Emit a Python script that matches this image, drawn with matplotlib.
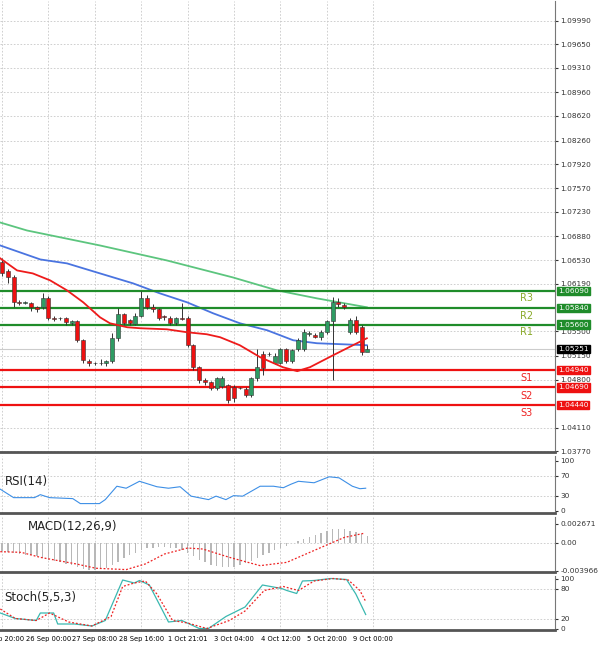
import matplotlib
matplotlib.use("Agg")
import matplotlib.pyplot as plt
import numpy as np

# ---------------- data ----------------
opens = [1.0650,1.0638,1.0628,1.0592,1.0591,1.0591,1.0585,1.0585,1.0598,1.0570,1.0569,1.0569,1.0562,1.0565,1.0537,1.0507,
         1.0504,1.0504,1.0504,1.0507,1.0540,1.0575,1.0566,1.0561,1.0573,1.0598,1.0585,1.0582,1.0572,1.0570,1.0562,1.0569,
         1.0570,1.0530,1.0498,1.0480,1.0477,1.0468,1.0471,1.0472,1.0469,1.0468,1.0467,1.0458,1.0482,1.0517,1.0517,1.0505,
         1.0505,1.0524,1.0507,1.0524,1.0524,1.0547,1.0545,1.0542,1.0549,1.0565,1.0592,1.0588,1.0549,1.0566,1.0556,1.0520]
closes = [1.0635,1.0628,1.0592,1.0591,1.0592,1.0585,1.0583,1.0598,1.0569,1.0568,1.0569,1.0563,1.0565,1.0537,1.0508,1.0504,
          1.0504,1.0505,1.0507,1.0540,1.0575,1.0562,1.0562,1.0573,1.0598,1.0585,1.0582,1.0570,1.0571,1.0562,1.0569,1.0568,
          1.0530,1.0498,1.0480,1.0477,1.0468,1.0482,1.0482,1.0451,1.0454,1.0468,1.0458,1.0482,1.0498,1.0497,1.0518,1.0514,
          1.0524,1.0507,1.0523,1.0537,1.0549,1.0547,1.0542,1.0549,1.0565,1.0592,1.0589,1.0585,1.0566,1.0549,1.0520,1.0525]
highs = [1.0656,1.0640,1.0632,1.0596,1.0594,1.0593,1.0587,1.0606,1.0601,1.0572,1.0571,1.0571,1.0567,1.0567,1.0539,1.0510,
         1.0506,1.0510,1.0509,1.0548,1.0584,1.0577,1.0568,1.0576,1.0608,1.0602,1.0590,1.0584,1.0574,1.0572,1.0571,1.0591,
         1.0572,1.0532,1.0500,1.0482,1.0479,1.0484,1.0485,1.0474,1.0472,1.0470,1.0470,1.0484,1.0524,1.0522,1.0520,1.0519,
         1.0526,1.0526,1.0525,1.0540,1.0553,1.0550,1.0548,1.0552,1.0567,1.0600,1.0598,1.0591,1.0570,1.0572,1.0560,1.0530]
lows = [1.0630,1.0620,1.0586,1.0588,1.0589,1.0580,1.0578,1.0583,1.0566,1.0565,1.0566,1.0560,1.0560,1.0534,1.0505,1.0500,
        1.0502,1.0501,1.0500,1.0505,1.0536,1.0560,1.0560,1.0559,1.0571,1.0582,1.0578,1.0567,1.0567,1.0560,1.0560,1.0566,
        1.0527,1.0494,1.0476,1.0472,1.0465,1.0465,1.0468,1.0447,1.0448,1.0466,1.0455,1.0455,1.0478,1.0487,1.0514,1.0503,
        1.0503,1.0504,1.0505,1.0521,1.0521,1.0544,1.0540,1.0538,1.0546,1.0480,1.0585,1.0583,1.0546,1.0546,1.0516,1.0522]

ma_green_idx = [-0.3, 4.3, 16.9, 28.4, 39.8, 47.4, 54.3, 62.9]
ma_green = [1.07075, 1.06960, 1.06743, 1.06527, 1.06281, 1.06094, 1.05978, 1.05849]
ma_blue_idx = [-0.3, 6.6, 11.2, 16.9, 22.6, 27.2, 31.9, 36.4, 41, 45.7, 50.2, 54.3, 62.9]
ma_blue = [1.06743, 1.06541, 1.06484, 1.06339, 1.06195, 1.06051, 1.05921, 1.05762, 1.05618, 1.05517, 1.05372,
           1.05329, 1.05300]
ma_red_idx = [-0.3, 2.6, 5.3, 8.3, 11.2, 14, 16.9, 18.6, 21.6, 23.8, 28.4, 31.9, 35.3, 37.6, 41, 44.5, 48.4,
              50.9, 53.1, 57.1, 60.5, 62.9]
ma_red = [1.06556, 1.06382, 1.06339, 1.06238, 1.06094, 1.05921, 1.05704, 1.05618, 1.05560, 1.05546, 1.05531,
          1.05488, 1.05459, 1.05416, 1.05300, 1.05127, 1.04983, 1.04925, 1.04983, 1.05156, 1.05300, 1.05401]

levels_names = ["R3", "R2", "R1", "S1", "S2", "S3"]
levels = [1.06090, 1.05840, 1.05600, 1.04940, 1.04690, 1.04440]
last_price = 1.05251
price_ticks = [1.09990,1.09650,1.09310,1.08960,1.08620,1.08260,1.07920,1.07570,1.07230,1.06880,1.06530,1.06190,
               1.05500,1.05150,1.04800,1.04110,1.03770]

rsi_idx = [-0.3,2,5.6,6.6,8.2,12.2,13.5,16.8,17.8,19.8,21.4,23.7,26.7,28.7,30.7,32.6,35.6,36.9,38.6,39.9,41.5,
           44.5,46.8,48.5,49.8,51.1,53.8,56.4,58.1,60.4,61.7,62.7]
rsi = [43,26,26,32,26,24,14,14,22,49,45,59,48,45,48,29,22,29,22,30,29,49,49,46,53,59,56,68,66,49,44,45]

macd_hist = [-0.0012,-0.0013,-0.0015,-0.0016,-0.0017,-0.0018,-0.0019,-0.0021,-0.0024,-0.0026,-0.0028,-0.0030,-0.0032,-0.0035,
             -0.0037,-0.0038,-0.0038,-0.0037,-0.0036,-0.0032,-0.0027,-0.0022,-0.0018,-0.0015,-0.0011,-0.0008,-0.0007,-0.0006,
             -0.0006,-0.0007,-0.0008,-0.0010,-0.0014,-0.0019,-0.0024,-0.0028,-0.0031,-0.0033,-0.0034,-0.0035,-0.0034,-0.0032,
             -0.0029,-0.0026,-0.0022,-0.0018,-0.0014,-0.0010,-0.0007,-0.0004,-0.0001,0.0002,0.0005,0.0008,0.0011,0.0014,
             0.0016,0.0019,0.0020,0.0019,0.0017,0.0015,0.0012,0.0010]
sig_idx = [-0.3,3.3,6.6,12.8,16.2,21.4,24.7,28,32,34.6,39.2,44.5,49.1,52.4,55.7,59,62.3]
macd_sig = [-0.00127,-0.00136,-0.00207,-0.00301,-0.00362,-0.00381,-0.00301,-0.00160,-0.00075,-0.00089,-0.00207,
            -0.00325,-0.00278,-0.00160,-0.00042,0.00075,0.00132]

st_idx = [-0.3,2.3,5.9,6.6,8.9,9.6,12.5,15.5,17.8,20.8,22.8,23.7,25.4,28.7,31,34,35.6,38.6,41.9,44.9,48.2,49.1,
          50.8,51.8,53.8,56.7,59.4,61,62.7]
st_main = [31,20,16,31,31,9,9,5,16,97,91,96,87,13,16,0,0,24,43,87,80,76,70,95,96,100,98,69,28]
sg_idx = [-0.3,2.3,5.9,8.2,11.5,15.5,18.8,20.8,22.8,24.7,26.7,29.4,32,35.3,39.2,41.9,45.2,48.5,51.1,53.8,
          57.1,59.7,61.7,62.7]
st_sig = [39,20,16,31,13,5,24,84,91,95,69,16,11,0,16,35,76,84,76,95,100,97,76,54]

date_idx = [0, 8, 16, 24, 32, 40, 48, 56, 64]
date_labels = ["25 Sep 20:00", "26 Sep 00:00", "27 Sep 08:00", "28 Sep 16:00", "1 Oct 21:01",
               "3 Oct 04:00", "4 Oct 12:00", "5 Oct 20:00", "9 Oct 00:00"]

# ---------------- drawing ----------------
W, H = 600, 646
fig = plt.figure(figsize=(6, 6.46), dpi=100)
fig.patch.set_facecolor("white")
plt.rcParams["font.family"] = "DejaVu Sans"
X0 = -0.35
XW = 555 / 5.8

def mk(top, bot):
    return fig.add_axes([0, 1 - bot / H, 555 / W, (bot - top) / H])

ax = mk(1, 452)
ar = mk(456, 513)
am = mk(517, 572)
ast = mk(576, 630)
grid_kw = dict(color="#c8c8c8", linestyle=(0, (2, 2)), linewidth=0.6)
for a in (ax, ar, am, ast):
    a.set_xlim(X0, X0 + XW)
    a.yaxis.tick_right()
    a.tick_params(axis="y", labelsize=5.3, length=2, pad=2, colors="#333333")
    a.tick_params(axis="x", length=0)
    a.set_xticks(date_idx)
    a.set_xticklabels([])
    for x in date_idx:
        a.axvline(x, **grid_kw, zorder=0)
    for s in ("left", "top"):
        a.spines[s].set_visible(False)
    a.spines["right"].set_color("#777777")
    a.spines["bottom"].set_color("#555555")
    a.spines["bottom"].set_linewidth(2)

ast.set_xticklabels(date_labels, fontsize=4.9)
ast.tick_params(axis="x", pad=4)

# main
ax.set_ylim(1.03756, 1.10279)
ax.set_yticks(price_ticks)
ax.set_yticklabels([f"{v:.5f}" for v in price_ticks])
for v in price_ticks:
    ax.axhline(v, **grid_kw, zorder=0)
for i, (o, c, h, l) in enumerate(zip(opens, closes, highs, lows)):
    col = "#2e9c63" if c >= o else "#ee1111"
    ax.vlines(i, l, h, color="#333333", linewidth=0.7, zorder=3)
    lo, hi = min(o, c), max(o, c)
    if hi - lo < 0.00005:
        lo -= 0.000025; hi += 0.000025
    ax.bar(i, hi - lo, bottom=lo, width=0.7, color=col, edgecolor="#333333", linewidth=0.4, zorder=4)
ax.plot(ma_green_idx, ma_green, color="#5cc57e", linewidth=1.3, zorder=2)
ax.plot(ma_blue_idx, ma_blue, color="#4a74e0", linewidth=1.3, zorder=2)
ax.plot(ma_red_idx, ma_red, color="#ee1b1b", linewidth=1.3, zorder=5)
ax.axhline(last_price, color="#cccccc", linewidth=0.8, zorder=1)
for name, v in zip(levels_names, levels):
    g = name.startswith("R")
    col = "#1f8c2a" if g else "#ee1111"
    ax.axhline(v, color=col, linewidth=1.6, zorder=2)
    ax.text(1.005, v, f"{v:.5f}", transform=ax.get_yaxis_transform(), fontsize=5.3, color="white",
            va="center", ha="left", bbox=dict(boxstyle="square,pad=0.15", fc=col, ec=col), clip_on=False)
    off = -0.0011 if g else -0.0012
    ax.text(90.5, v + off, name, fontsize=7, color="#8aaa2a" if g else "#ee2222", ha="center", va="center")
ax.text(1.005, last_price, f"{last_price:.5f}", transform=ax.get_yaxis_transform(), fontsize=5.3, color="white",
        va="center", ha="left", bbox=dict(boxstyle="square,pad=0.15", fc="black", ec="black"), clip_on=False)

# RSI
ar.set_ylim(-5, 110)
ar.set_yticks([100, 70, 30, 0])
for v in (70, 30):
    ar.axhline(v, **grid_kw, zorder=0)
ar.plot(rsi_idx, rsi, color="#3d8fe6", linewidth=0.8)
ar.text(0.008, 0.55, "RSI(14)", transform=ar.transAxes, fontsize=8.5, color="#222222", va="center")

# MACD
am.set_ylim(-0.00415, 0.00365)
am.set_yticks([0.002671, 0.0, -0.003966])
am.set_yticklabels(["0.002671", "0.00", "-0.003966"])
am.axhline(0, **grid_kw, zorder=0)
am.bar(range(len(macd_hist)), macd_hist, width=0.25, color="#b8b8b8")
am.plot(sig_idx, macd_sig, color="#ee2222", linewidth=0.9, linestyle=(0, (1.5, 1.5)))
am.text(0.05, 0.83, "MACD(12,26,9)", transform=am.transAxes, fontsize=8.5, color="#222222", va="center")

# Stoch
ast.set_ylim(-3, 105)
ast.set_yticks([100, 80, 20, 0])
for v in (80, 20):
    ast.axhline(v, **grid_kw, zorder=0)
ast.plot(st_idx, st_main, color="#3ab8b0", linewidth=0.9)
ast.plot(sg_idx, st_sig, color="#ee2222", linewidth=0.9, linestyle=(0, (1.5, 1.5)))
ast.text(0.008, 0.6, "Stoch(5,5,3)", transform=ast.transAxes, fontsize=8.5, color="#222222", va="center")

fig.savefig("out.png", dpi=100)
